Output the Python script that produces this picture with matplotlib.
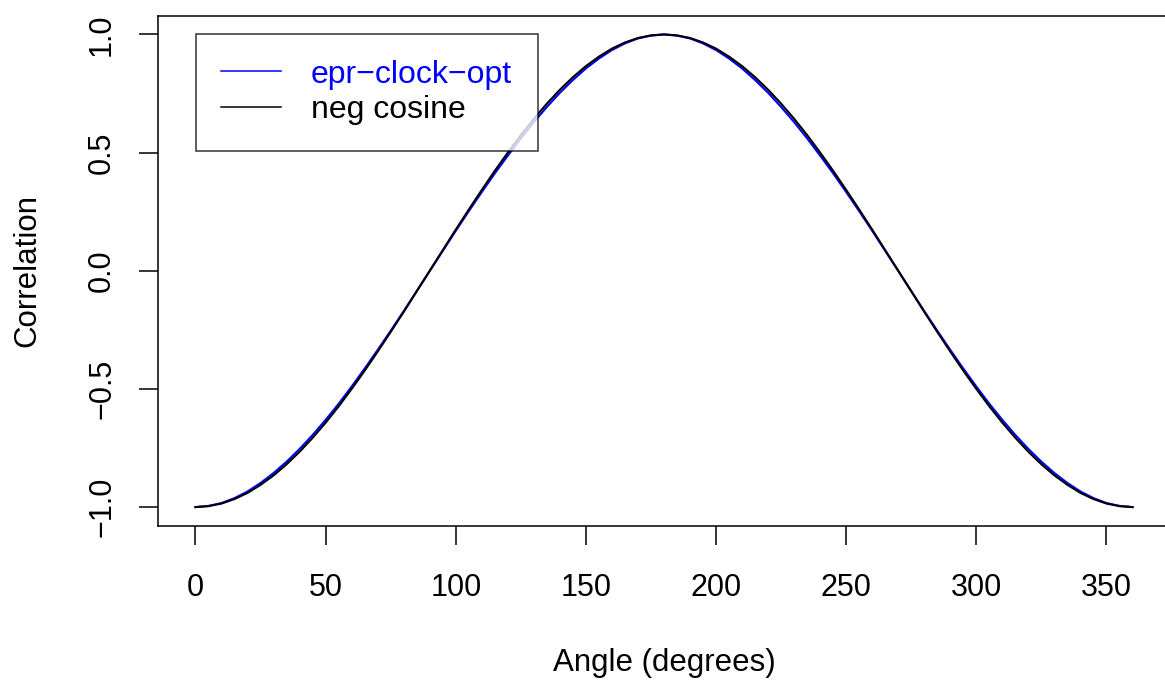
import numpy as np
import matplotlib
matplotlib.use("Agg")
import matplotlib.pyplot as plt
from matplotlib.lines import Line2D

plt.rcParams['font.family'] = ['Liberation Sans', 'DejaVu Sans']

# angle grid (degrees), every 5 degrees
angle = [0, 5, 10, 15, 20, 25, 30, 35, 40, 45, 50, 55, 60, 65, 70, 75, 80, 85,
         90, 95, 100, 105, 110, 115, 120, 125, 130, 135, 140, 145, 150, 155, 160, 165, 170, 175,
         180, 185, 190, 195, 200, 205, 210, 215, 220, 225, 230, 235, 240, 245, 250, 255, 260, 265,
         270, 275, 280, 285, 290, 295, 300, 305, 310, 315, 320, 325, 330, 335, 340, 345, 350, 355,
         360]

# epr-clock-opt correlation (blue)
epr_clock_opt = [-1.000, -0.995, -0.983, -0.962, -0.934, -0.898, -0.856, -0.808, -0.754, -0.695,
                 -0.631, -0.563, -0.490, -0.414, -0.335, -0.254, -0.171, -0.086,
                 -0.001, 0.084, 0.169, 0.252, 0.333, 0.412, 0.487, 0.560, 0.629, 0.693,
                 0.753, 0.807, 0.856, 0.898, 0.934, 0.962, 0.983, 0.995,
                 1.000, 0.995, 0.983, 0.962, 0.934, 0.898, 0.856, 0.807, 0.753, 0.693,
                 0.629, 0.560, 0.487, 0.412, 0.333, 0.252, 0.169, 0.084,
                 -0.001, -0.086, -0.171, -0.254, -0.335, -0.414, -0.490, -0.563, -0.631, -0.695,
                 -0.754, -0.808, -0.856, -0.898, -0.934, -0.962, -0.983, -0.995,
                 -1.000]

# negative cosine reference (black)
neg_cosine = [-1.000, -0.996, -0.985, -0.966, -0.940, -0.906, -0.866, -0.819, -0.766, -0.707,
              -0.643, -0.574, -0.500, -0.423, -0.342, -0.259, -0.174, -0.087,
              0.000, 0.087, 0.174, 0.259, 0.342, 0.423, 0.500, 0.574, 0.643, 0.707,
              0.766, 0.819, 0.866, 0.906, 0.940, 0.966, 0.985, 0.996,
              1.000, 0.996, 0.985, 0.966, 0.940, 0.906, 0.866, 0.819, 0.766, 0.707,
              0.643, 0.574, 0.500, 0.423, 0.342, 0.259, 0.174, 0.087,
              0.000, -0.087, -0.174, -0.259, -0.342, -0.423, -0.500, -0.574, -0.643, -0.707,
              -0.766, -0.819, -0.866, -0.906, -0.940, -0.966, -0.985, -0.996,
              -1.000]

xticks = [0, 50, 100, 150, 200, 250, 300, 350]
yticks = [-1.0, -0.5, 0.0, 0.5, 1.0]

fig = plt.figure(figsize=(11.65, 6.81), dpi=100)
# R-style plot region; right edge runs past the image
ax = fig.add_axes([0.1356, 0.2276, 0.8687, 0.7496])

ax.plot(angle, epr_clock_opt, color="blue", lw=1.5)
ax.plot(angle, neg_cosine, color="black", lw=1.5)

ax.set_xlim(-14.4, 374.4)
ax.set_ylim(-1.08, 1.08)

ax.set_xticks(xticks)
ax.set_yticks(yticks)
ax.set_yticklabels([("%.1f" % v).replace("-", "\u2212") for v in yticks],
                   rotation=90, va="center")
ax.tick_params(axis="both", length=13.5, width=1.1, labelsize=22)
ax.tick_params(axis="x", pad=20)
ax.tick_params(axis="y", pad=16)
for s in ax.spines.values():
    s.set_linewidth(1.1)

ax.set_xlabel("Angle (degrees)", fontsize=22.5, labelpad=33)
ax.set_ylabel("Correlation", fontsize=22.5, labelpad=32)

handles = [Line2D([], [], color="blue", lw=1.1), Line2D([], [], color="black", lw=1.1)]
leg = ax.legend(handles, ["epr\u2212clock\u2212opt", "neg cosine"], loc="upper left",
                bbox_to_anchor=(0.0375, 0.9638), fontsize=23, frameon=True, fancybox=False,
                edgecolor="black", handlelength=1.85, handletextpad=0.95, borderpad=0.8,
                labelspacing=0.18, borderaxespad=0)
leg.get_frame().set_linewidth(1.1)
leg.get_texts()[0].set_color("blue")

fig.savefig("out.png", dpi=100)
